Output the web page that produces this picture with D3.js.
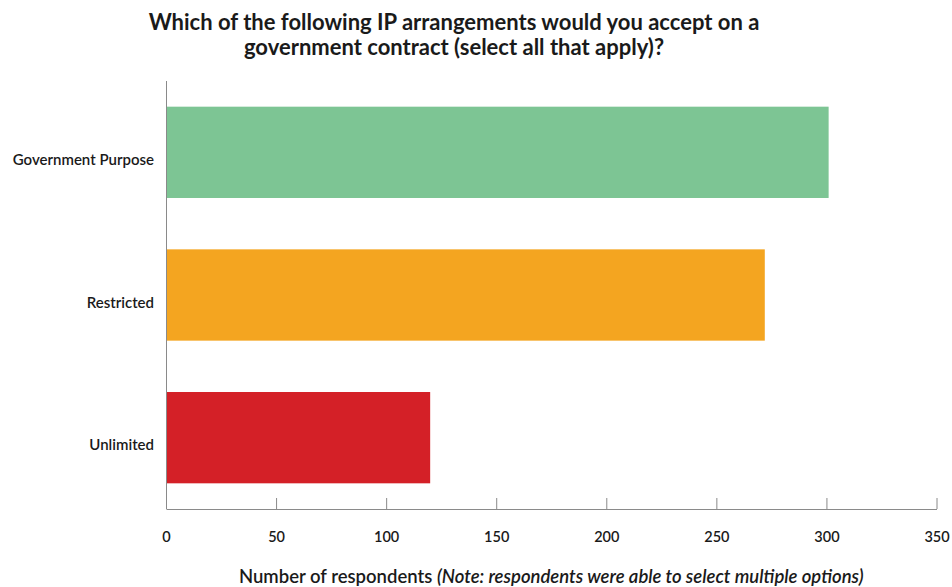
<!DOCTYPE html>
<html>
<head>
<meta charset="utf-8">
<script src="https://cdn.jsdelivr.net/npm/d3@7"></script>
<style>
  body { margin: 0; background: #fff; }
  text { font-family: Lato, "Noto Sans", sans-serif; fill: #1a1a1a; }
</style>
</head>
<body>
<svg width="952" height="587"></svg>
<script>
const categories = ['Government Purpose', 'Restricted', 'Unlimited'];
const values = [301, 272, 120];
const colors = ['#7dc594', '#f4a520', '#d42027'];
const xTicks = [0, 50, 100, 150, 200, 250, 300, 350];
const titleLines = [
  'Which of the following IP arrangements would you accept on a',
  'government contract (select all that apply)?'
];

const svg = d3.select('svg');
const margin = {top: 81, right: 15, bottom: 78, left: 166};
const width = +svg.attr('width');
const height = +svg.attr('height');
const innerWidth = width - margin.left - margin.right - 0.5;
const innerHeight = height - margin.top - margin.bottom;

const xScale = d3.scaleLinear().domain([0, 350]).range([0, innerWidth]);
const yScale = d3.scaleBand()
  .domain(categories)
  .range([0, innerHeight])
  .paddingInner(0.36)
  .paddingOuter(0.18);

const g = svg.append('g')
  .attr('transform', `translate(${margin.left}, ${margin.top})`);

// bars
g.selectAll('rect').data(categories)
  .enter().append('rect')
    .attr('x', 0)
    .attr('y', d => yScale(d))
    .attr('width', (d, i) => xScale(values[i]))
    .attr('height', yScale.bandwidth())
    .attr('fill', (d, i) => colors[i]);

// y axis: labels only (sit a bit below bar centre like the original)
const yAxisG = g.append('g').call(d3.axisLeft(yScale).tickSize(0).tickPadding(12));
yAxisG.select('.domain').remove();
yAxisG.selectAll('text')
  .attr('dy', '0.85em')
  .attr('font-size', 15)
  .attr('font-weight', 600)
  .style('font-family', 'Lato, sans-serif');

g.append('line')
  .attr('x1', 0.5).attr('x2', 0.5)
  .attr('y1', 0).attr('y2', innerHeight)
  .attr('stroke', '#8a8a8a');

// x axis with ticks pointing up
const xAxisG = g.append('g')
  .attr('transform', `translate(0, ${innerHeight})`)
  .call(d3.axisBottom(xScale).tickValues(xTicks).tickSizeInner(-11).tickSizeOuter(0).tickPadding(23));
xAxisG.select('.domain').attr('stroke', '#8a8a8a');
xAxisG.selectAll('.tick line').attr('stroke', '#8a8a8a');
xAxisG.selectAll('.tick text')
  .attr('font-size', 14.5)
  .attr('font-weight', 600)
  .style('font-family', 'Lato, sans-serif');

// axis label
const xLabel = g.append('text')
  .attr('x', innerWidth / 2)
  .attr('y', innerHeight + 74)
  .attr('text-anchor', 'middle')
  .attr('font-size', 18.5)
  .attr('font-weight', 600);
xLabel.append('tspan').text('Number of respondents ');
xLabel.append('tspan').attr('font-style', 'italic')
  .text('(Note: respondents were able to select multiple options)');

// title
const title = svg.append('text')
  .attr('x', 454)
  .attr('y', 30)
  .attr('text-anchor', 'middle')
  .attr('font-size', 22)
  .attr('font-weight', 700);
titleLines.forEach((line, i) => {
  title.append('tspan').attr('x', 454).attr('dy', i === 0 ? 0 : 25).text(line);
});
</script>
</body>
</html>
